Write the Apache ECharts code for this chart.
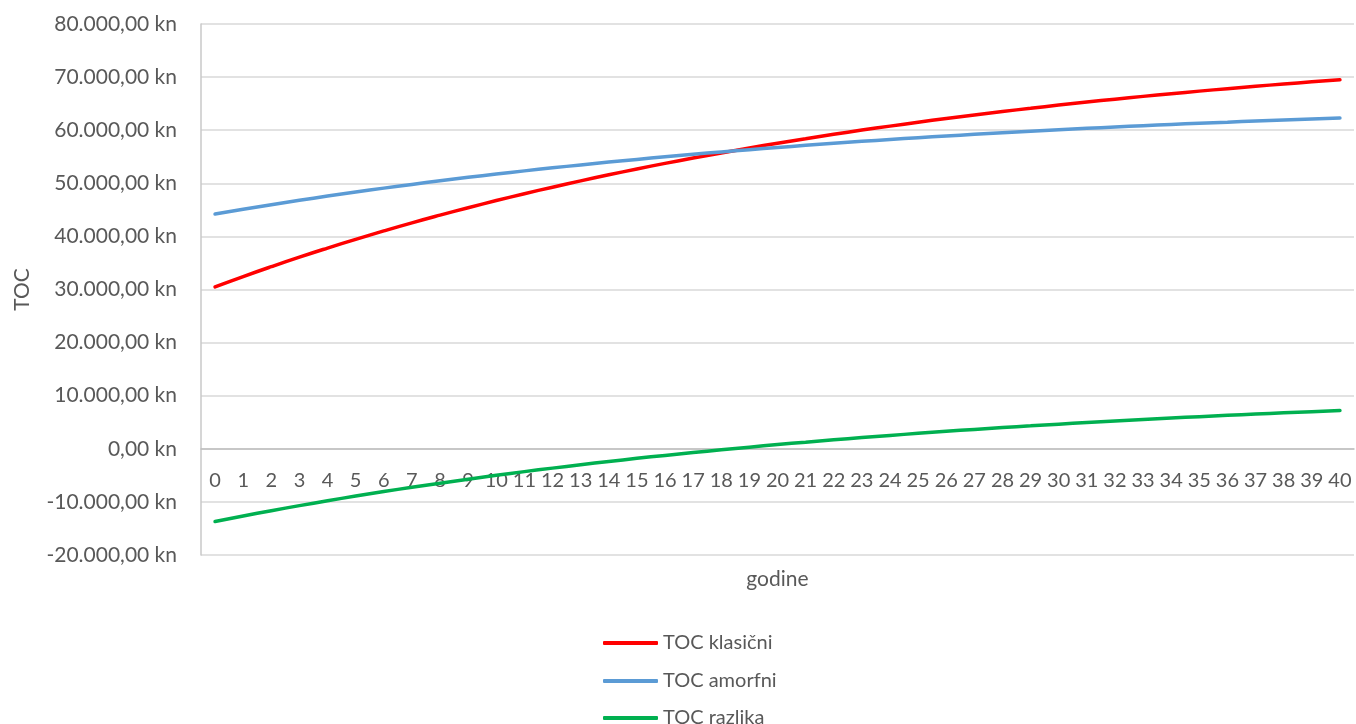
<!DOCTYPE html>
<html>
<head>
<meta charset="utf-8">
<script src="https://cdn.jsdelivr.net/npm/echarts@6/dist/echarts.min.js"></script>
<style>
html,body{margin:0;padding:0;background:#fff;}
#chart{width:1356px;height:724px;}
</style>
</head>
<body>
<div id="chart"></div>
<script>
var years = ['0','1','2','3','4','5','6','7','8','9','10','11','12','13','14','15','16','17','18','19','20','21','22','23','24','25','26','27','28','29','30','31','32','33','34','35','36','37','38','39','40'];

var tocKlasicni = [30500,32440,34300,36090,37800,39450,41030,42550,44000,45400,46750,48040,49270,50460,51600,52700,53750,54760,55720,56650,57550,58400,59230,60020,60770,61500,62200,62870,63520,64130,64730,65300,65840,66370,66870,67360,67820,68270,68700,69110,69500];

var tocAmorfni = [44200,45100,45960,46790,47590,48350,49090,49790,50470,51120,51740,52340,52910,53460,53990,54500,54990,55460,55910,56340,56750,57150,57530,57900,58250,58590,58910,59220,59520,59810,60090,60350,60600,60850,61080,61310,61520,61730,61930,62120,62300];

var tocRazlika = [-13700,-12660,-11660,-10700,-9790,-8900,-8060,-7240,-6470,-5720,-4990,-4300,-3640,-3000,-2390,-1800,-1240,-700,-190,310,800,1250,1700,2120,2520,2910,3290,3650,4000,4320,4640,4950,5240,5520,5790,6050,6300,6540,6770,6990,7200];

var seriesNames = ['TOC klasični','TOC amorfni','TOC razlika'];
var yMin = -20000, yMax = 80000, yStep = 10000;

function fmtKn(v){
  var neg = v < 0;
  var s = String(Math.abs(Math.round(v)));
  s = s.replace(/\B(?=(\d{3})+(?!\d))/g, '.');
  return (neg ? '-' : '') + s + ',00 kn';
}

var FONT = 'Lato';
var TXT = '#595959';

function legendFor(name, top){
  return {
    orient: 'vertical',
    left: 603,
    top: top,
    padding: 0,
    icon: 'roundRect',
    itemWidth: 55,
    itemHeight: 4,
    textStyle: {fontFamily: FONT, fontSize: 20, color: TXT},
    data: [name]
  };
}

var chart = echarts.init(document.getElementById('chart'));
chart.setOption({
  animation: false,
  backgroundColor: '#ffffff',
  textStyle: {fontFamily: FONT},
  grid: {left: 201, right: 2, top: 24, bottom: 169, containLabel: false, outerBoundsMode: 'none'},
  legend: [
    legendFor(seriesNames[0], 633),
    legendFor(seriesNames[1], 671),
    legendFor(seriesNames[2], 708)
  ],
  xAxis: {
    type: 'category',
    data: years,
    boundaryGap: true,
    offset: -106,
    name: 'godine',
    nameLocation: 'middle',
    nameGap: 120,
    nameTextStyle: {fontFamily: FONT, fontSize: 21, color: TXT},
    axisLine: {onZero: false, lineStyle: {color: '#bfbfbf', width: 1.5}},
    axisTick: {show: false},
    axisLabel: {interval: 0, margin: 22, fontFamily: FONT, fontSize: 20, color: TXT},
    splitLine: {show: false}
  },
  yAxis: {
    type: 'value',
    min: yMin,
    max: yMax,
    interval: yStep,
    name: 'TOC',
    nameLocation: 'middle',
    nameGap: 168,
    nameTextStyle: {fontFamily: FONT, fontSize: 21, color: TXT},
    axisLine: {show: true, lineStyle: {color: '#c8c8c8', width: 1.5}},
    axisTick: {show: false},
    axisLabel: {margin: 24, fontFamily: FONT, fontSize: 21, color: TXT, formatter: fmtKn},
    splitLine: {show: true, lineStyle: {color: '#d9d9d9', width: 1.5}}
  },
  series: [
    {name: seriesNames[0], type: 'line', data: tocKlasicni, symbol: 'none', smooth: true, lineStyle: {color: '#ff0000', width: 3.5, cap: 'round'}, itemStyle: {color: '#ff0000'}},
    {name: seriesNames[1], type: 'line', data: tocAmorfni, symbol: 'none', smooth: true, lineStyle: {color: '#5b9bd5', width: 3.5, cap: 'round'}, itemStyle: {color: '#5b9bd5'}},
    {name: seriesNames[2], type: 'line', data: tocRazlika, symbol: 'none', smooth: true, lineStyle: {color: '#00b050', width: 3.5, cap: 'round'}, itemStyle: {color: '#00b050'}}
  ]
});
</script>
</body>
</html>
